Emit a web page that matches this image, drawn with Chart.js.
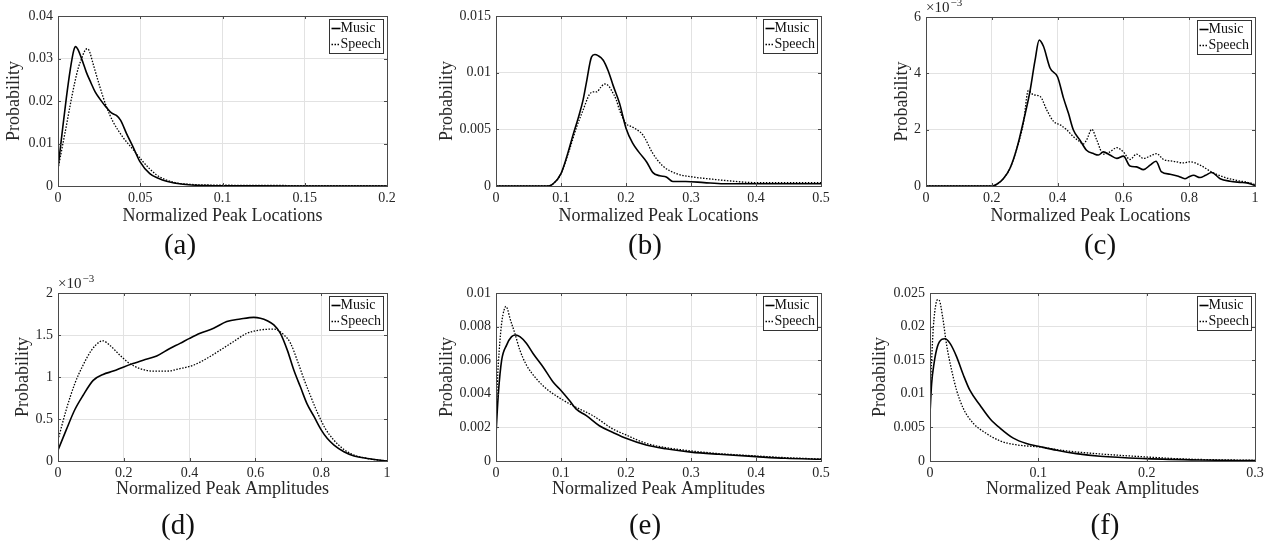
<!DOCTYPE html>
<html>
<head>
<meta charset="utf-8">
<script src="https://cdn.jsdelivr.net/npm/chart.js@4.4.1/dist/chart.umd.min.js"></script>
<style>
  body { margin:0; background:#fff; width:1273px; height:556px; position:relative; overflow:hidden; font-family:"Liberation Serif", serif; }
  canvas { position:absolute; }
  .cap { position:absolute; font-size:29px; color:#111; transform:translate(-50%,-50%); white-space:nowrap; }
</style>
</head>
<body>
<script>
// ---- data ----
const seriesNames = ['Music', 'Speech'];

// (a) peak locations
const aMusicX = [0, 0.0025, 0.005, 0.0075, 0.0095, 0.0107, 0.012, 0.0145, 0.0172, 0.02, 0.0225, 0.0254, 0.0294, 0.0325, 0.0355, 0.038, 0.0416, 0.0456, 0.0497, 0.0558, 0.061, 0.066, 0.076, 0.09, 0.1, 0.12, 0.15, 0.2];
const aMusicY = [0.0042, 0.0125, 0.0205, 0.0275, 0.0318, 0.0328, 0.0322, 0.0298, 0.0268, 0.0243, 0.0222, 0.0205, 0.0185, 0.0172, 0.0166, 0.0155, 0.0124, 0.0092, 0.0058, 0.0029, 0.0018, 0.0011, 0.0004, 0.0001, 0.00005, 0.00002, 0, 0];
const aSpeechX = [0, 0.0025, 0.005, 0.0075, 0.0101, 0.0125, 0.0142, 0.016, 0.0176, 0.019, 0.0213, 0.0254, 0.0294, 0.0335, 0.0396, 0.0456, 0.0517, 0.06, 0.07, 0.08, 0.1, 0.15, 0.2];
const aSpeechY = [0.004, 0.009, 0.014, 0.0192, 0.0242, 0.028, 0.0298, 0.0316, 0.0323, 0.0318, 0.0288, 0.0234, 0.0187, 0.0151, 0.0114, 0.0086, 0.0057, 0.0026, 0.0009, 0.0004, 0.0002, 0.0001, 0.00005];
const aXTicks = [0, 0.05, 0.1, 0.15, 0.2];
const aYTicks = [0, 0.01, 0.02, 0.03, 0.04];

// (b) peak locations
const bMusicX = [0, 0.05, 0.08, 0.088, 0.1, 0.109, 0.119, 0.127, 0.134, 0.139, 0.147, 0.152, 0.157, 0.165, 0.173, 0.18, 0.19, 0.2, 0.21, 0.221, 0.232, 0.241, 0.252, 0.262, 0.272, 0.292, 0.32, 0.35, 0.4, 0.45, 0.5];
const bMusicY = [0, 0, 0, 0.0002, 0.0011, 0.0026, 0.0046, 0.0061, 0.0076, 0.0091, 0.0114, 0.0116, 0.0115, 0.0111, 0.0101, 0.0089, 0.0073, 0.0051, 0.0038, 0.0029, 0.0021, 0.0012, 0.0009, 0.0008, 0.0004, 0.0004, 0.0003, 0.0002, 0.0002, 0.0002, 0.0002];
const bSpeechX = [0, 0.05, 0.08, 0.09, 0.1, 0.113, 0.124, 0.134, 0.144, 0.15, 0.155, 0.161, 0.167, 0.172, 0.177, 0.185, 0.19, 0.2, 0.206, 0.213, 0.226, 0.241, 0.256, 0.277, 0.302, 0.333, 0.35, 0.4, 0.45, 0.5];
const bSpeechY = [0, 0, 0, 0.0003, 0.0011, 0.0032, 0.0052, 0.0067, 0.0081, 0.0083, 0.0083, 0.0087, 0.009, 0.0089, 0.0085, 0.0076, 0.0067, 0.0055, 0.0053, 0.0051, 0.0045, 0.0029, 0.0018, 0.0011, 0.0008, 0.0006, 0.0005, 0.0003, 0.0003, 0.0003];
const bXTicks = [0, 0.1, 0.2, 0.3, 0.4, 0.5];
const bYTicks = [0, 0.005, 0.01, 0.015];

// (c) peak locations
const cMusicX = [0, 0.1, 0.2, 0.215, 0.235, 0.255, 0.276, 0.296, 0.316, 0.331, 0.344, 0.357, 0.377, 0.4, 0.418, 0.433, 0.448, 0.468, 0.488, 0.509, 0.524, 0.539, 0.559, 0.58, 0.6, 0.62, 0.64, 0.661, 0.681, 0.699, 0.716, 0.742, 0.767, 0.787, 0.8, 0.813, 0.833, 0.85, 0.868, 0.894, 0.924, 0.954, 0.975, 1.0];
const cMusicY = [0, 0, 0, 0.06e-3, 0.26e-3, 0.62e-3, 1.33e-3, 2.29e-3, 3.36e-3, 4.43e-3, 5.18e-3, 4.96e-3, 4.19e-3, 3.87e-3, 3.12e-3, 2.58e-3, 1.99e-3, 1.63e-3, 1.27e-3, 1.15e-3, 1.1e-3, 1.21e-3, 1.1e-3, 0.98e-3, 1.06e-3, 0.71e-3, 0.68e-3, 0.58e-3, 0.74e-3, 0.88e-3, 0.5e-3, 0.42e-3, 0.35e-3, 0.26e-3, 0.33e-3, 0.38e-3, 0.3e-3, 0.38e-3, 0.48e-3, 0.26e-3, 0.17e-3, 0.13e-3, 0.11e-3, 0.02e-3];
const cSpeechX = [0, 0.1, 0.2, 0.215, 0.235, 0.255, 0.276, 0.296, 0.311, 0.326, 0.347, 0.367, 0.388, 0.408, 0.428, 0.448, 0.468, 0.478, 0.488, 0.504, 0.519, 0.539, 0.559, 0.58, 0.6, 0.62, 0.64, 0.661, 0.681, 0.701, 0.722, 0.752, 0.782, 0.802, 0.833, 0.868, 0.904, 0.944, 0.985, 1.0];
const cSpeechY = [0, 0, 0, 0.06e-3, 0.26e-3, 0.62e-3, 1.33e-3, 2.23e-3, 3.39e-3, 3.24e-3, 3.18e-3, 2.7e-3, 2.29e-3, 2.17e-3, 1.99e-3, 1.75e-3, 1.57e-3, 1.49e-3, 1.63e-3, 2.01e-3, 1.63e-3, 1.13e-3, 1.21e-3, 1.36e-3, 1.21e-3, 0.94e-3, 1.13e-3, 0.98e-3, 1.06e-3, 1.15e-3, 0.94e-3, 0.88e-3, 0.82e-3, 0.86e-3, 0.74e-3, 0.5e-3, 0.32e-3, 0.2e-3, 0.11e-3, 0.05e-3];
const cXTicks = [0, 0.2, 0.4, 0.6, 0.8, 1];
const cYTicks = [0, 0.002, 0.004, 0.006];

// (d) peak amplitudes
const dMusicX = [0, 0.025, 0.051, 0.076, 0.107, 0.137, 0.168, 0.2, 0.228, 0.259, 0.3, 0.34, 0.371, 0.4, 0.432, 0.473, 0.513, 0.554, 0.595, 0.615, 0.636, 0.656, 0.676, 0.697, 0.717, 0.737, 0.757, 0.778, 0.8, 0.818, 0.839, 0.869, 0.9, 0.94, 1.0];
const dMusicY = [0.13e-3, 0.37e-3, 0.61e-3, 0.78e-3, 0.96e-3, 1.03e-3, 1.07e-3, 1.12e-3, 1.16e-3, 1.2e-3, 1.25e-3, 1.34e-3, 1.4e-3, 1.46e-3, 1.52e-3, 1.58e-3, 1.66e-3, 1.69e-3, 1.71e-3, 1.7e-3, 1.67e-3, 1.62e-3, 1.52e-3, 1.32e-3, 1.08e-3, 0.88e-3, 0.68e-3, 0.53e-3, 0.37e-3, 0.27e-3, 0.19e-3, 0.11e-3, 0.06e-3, 0.03e-3, 0];
const dSpeechX = [0, 0.025, 0.051, 0.076, 0.102, 0.127, 0.137, 0.157, 0.188, 0.218, 0.249, 0.29, 0.33, 0.371, 0.411, 0.452, 0.493, 0.533, 0.574, 0.615, 0.656, 0.687, 0.707, 0.727, 0.747, 0.767, 0.787, 0.812, 0.838, 0.868, 0.9, 0.94, 1.0];
const dSpeechY = [0.25e-3, 0.61e-3, 0.92e-3, 1.14e-3, 1.32e-3, 1.42e-3, 1.43e-3, 1.38e-3, 1.26e-3, 1.16e-3, 1.1e-3, 1.07e-3, 1.07e-3, 1.1e-3, 1.14e-3, 1.22e-3, 1.32e-3, 1.42e-3, 1.52e-3, 1.56e-3, 1.57e-3, 1.5e-3, 1.4e-3, 1.2e-3, 0.98e-3, 0.78e-3, 0.59e-3, 0.39e-3, 0.25e-3, 0.14e-3, 0.07e-3, 0.03e-3, 0];
const dXTicks = [0, 0.2, 0.4, 0.6, 0.8, 1];
const dYTicks = [0, 0.0005, 0.001, 0.0015, 0.002];

// (e) peak amplitudes
const eMusicX = [0, 0.0036, 0.0087, 0.0163, 0.024, 0.0306, 0.0367, 0.047, 0.057, 0.0724, 0.0878, 0.1, 0.113, 0.123, 0.139, 0.159, 0.18, 0.2, 0.231, 0.261, 0.3, 0.343, 0.4, 0.445, 0.5];
const eMusicY = [0.0016, 0.004, 0.006, 0.0069, 0.0074, 0.0075, 0.0074, 0.007, 0.0064, 0.0056, 0.0047, 0.0042, 0.0036, 0.0031, 0.0027, 0.0021, 0.0017, 0.00135, 0.00095, 0.00073, 0.00053, 0.0004, 0.00026, 0.00016, 0.0001];
const eSpeechX = [0, 0.002, 0.005, 0.0087, 0.0125, 0.0153, 0.018, 0.0214, 0.029, 0.0367, 0.047, 0.062, 0.0776, 0.1, 0.123, 0.149, 0.18, 0.2, 0.231, 0.261, 0.3, 0.343, 0.4, 0.445, 0.5];
const eSpeechY = [0.0022, 0.0046, 0.0066, 0.0082, 0.009, 0.0092, 0.009, 0.0085, 0.0076, 0.0066, 0.0057, 0.0049, 0.0043, 0.0037, 0.0032, 0.0027, 0.0019, 0.00155, 0.00105, 0.0008, 0.0006, 0.00044, 0.0003, 0.0002, 0.00012];
const eXTicks = [0, 0.1, 0.2, 0.3, 0.4, 0.5];
const eYTicks = [0, 0.002, 0.004, 0.006, 0.008, 0.01];

// (f) peak amplitudes
const fMusicX = [0, 0.0015, 0.0037, 0.0068, 0.0108, 0.0138, 0.0185, 0.0246, 0.0308, 0.0369, 0.0462, 0.0554, 0.0646, 0.0769, 0.089, 0.1, 0.117, 0.135, 0.157, 0.2, 0.25, 0.3];
const fMusicY = [0.0071, 0.0115, 0.0145, 0.017, 0.0181, 0.0182, 0.0175, 0.0155, 0.0128, 0.0105, 0.0083, 0.0063, 0.0049, 0.0034, 0.0026, 0.0022, 0.0016, 0.0011, 0.0007, 0.00035, 0.00015, 0.00005];
const fSpeechX = [0, 0.0015, 0.0031, 0.0055, 0.0071, 0.0086, 0.0117, 0.0154, 0.02, 0.0246, 0.0308, 0.04, 0.0492, 0.0646, 0.08, 0.1, 0.126, 0.157, 0.2, 0.234, 0.3];
const fSpeechY = [0.0096, 0.015, 0.02, 0.0234, 0.024, 0.0239, 0.0214, 0.0172, 0.0135, 0.0105, 0.0078, 0.0056, 0.0044, 0.003, 0.0024, 0.0021, 0.0015, 0.00105, 0.0006, 0.0003, 0.0001];
const fXTicks = [0, 0.1, 0.2, 0.3];
const fYTicks = [0, 0.005, 0.01, 0.015, 0.02, 0.025];

const locTitle = 'Normalized Peak Locations';
const ampTitle = 'Normalized Peak Amplitudes';

// ---- layout of the six panels (plot box in page pixels) ----
const panels = [
  { cap:'(a)', capX:180, capY:244, l:58,  r:387,  t:16,  b:186, yTitleX:14,  row:0, xt:locTitle, mx:aMusicX, my:aMusicY, sx:aSpeechX, sy:aSpeechY, xTicks:aXTicks, yTicks:aYTicks, exp:false },
  { cap:'(b)', capX:645, capY:244, l:496, r:821,  t:16,  b:186, yTitleX:447, row:0, xt:locTitle, mx:bMusicX, my:bMusicY, sx:bSpeechX, sy:bSpeechY, xTicks:bXTicks, yTicks:bYTicks, exp:false },
  { cap:'(c)', capX:1100, capY:244, l:926, r:1255, t:17,  b:186, yTitleX:902, row:0, xt:locTitle, mx:cMusicX, my:cMusicY, sx:cSpeechX, sy:cSpeechY, xTicks:cXTicks, yTicks:cYTicks, exp:true },
  { cap:'(d)', capX:178, capY:524, l:58,  r:387,  t:293, b:461, yTitleX:23,  row:1, xt:ampTitle, mx:dMusicX, my:dMusicY, sx:dSpeechX, sy:dSpeechY, xTicks:dXTicks, yTicks:dYTicks, exp:true },
  { cap:'(e)', capX:645, capY:524, l:496, r:821,  t:293, b:461, yTitleX:447, row:1, xt:ampTitle, mx:eMusicX, my:eMusicY, sx:eSpeechX, sy:eSpeechY, xTicks:eXTicks, yTicks:eYTicks, exp:false },
  { cap:'(f)', capX:1105, capY:524, l:930, r:1255, t:293, b:461, yTitleX:880, row:1, xt:ampTitle, mx:fMusicX, my:fMusicY, sx:fSpeechX, sy:fSpeechY, xTicks:fXTicks, yTicks:fYTicks, exp:false }
];

const FAM = '"Liberation Serif", serif';
const INK = '#262626';
const TITLE_SIZE = 18;
const HALF_LINE = TITLE_SIZE * 1.2 / 2;
const zip = (xs, ys) => xs.map((x, i) => ({ x, y: ys[i] }));
const fmt = v => String(+v.toFixed(6));

// frame, inward ticks, legend box and exponent label (MATLAB look)
const framePlugin = {
  id: 'frame',
  afterDraw(chart, args, opts) {
    const { ctx, chartArea: a, scales } = chart;
    ctx.save();
    ctx.strokeStyle = '#4a4a4a';
    ctx.lineWidth = 1;
    ctx.strokeRect(Math.round(a.left) + 0.5, Math.round(a.top) + 0.5, Math.round(a.right - a.left), Math.round(a.bottom - a.top));
    const tl = 3;
    ctx.beginPath();
    scales.x.ticks.forEach(t => {
      const px = Math.round(scales.x.getPixelForValue(t.value)) + 0.5;
      ctx.moveTo(px, a.bottom); ctx.lineTo(px, a.bottom - tl);
      ctx.moveTo(px, a.top); ctx.lineTo(px, a.top + tl);
    });
    scales.y.ticks.forEach(t => {
      const py = Math.round(scales.y.getPixelForValue(t.value)) + 0.5;
      ctx.moveTo(a.left, py); ctx.lineTo(a.left + tl, py);
      ctx.moveTo(a.right, py); ctx.lineTo(a.right - tl, py);
    });
    ctx.stroke();

    // legend
    ctx.font = '14px ' + FAM;
    const tw = Math.max(...chart.data.datasets.map(d => ctx.measureText(d.label).width));
    const bw = Math.round(12 + tw + 2), bh = 34;
    const bx = Math.round(a.right - 4 - bw) + 0.5, by = Math.round(a.top + 3) + 0.5;
    ctx.fillStyle = '#fff';
    ctx.fillRect(bx, by, bw, bh);
    ctx.strokeStyle = '#333';
    ctx.strokeRect(bx, by, bw, bh);
    chart.data.datasets.forEach((d, i) => {
      const cy = by + 9 + i * 16;
      ctx.save();
      ctx.strokeStyle = '#000';
      ctx.lineWidth = d.borderWidth;
      ctx.setLineDash(d.borderDash || []);
      ctx.beginPath(); ctx.moveTo(bx + 2, cy); ctx.lineTo(bx + 11, cy); ctx.stroke();
      ctx.restore();
      ctx.fillStyle = '#111';
      ctx.textBaseline = 'middle';
      ctx.fillText(d.label, bx + 11, cy);
    });

    if (opts.exp) {
      ctx.fillStyle = INK;
      ctx.textBaseline = 'alphabetic';
      ctx.font = '15px ' + FAM;
      const base = '\u00d710';
      ctx.fillText(base, a.left, a.top - 5);
      const w = ctx.measureText(base).width;
      ctx.font = '11px ' + FAM;
      ctx.fillText('\u22123', a.left + w + 1, a.top - 11);
    }
    ctx.restore();
  }
};

panels.forEach(p => {
  const left = p.yTitleX - 12;
  const top = p.t - (p.row ? 22 : 17);
  const right = p.r + 15;
  const bottom = p.b + 44;
  const cv = document.createElement('canvas');
  cv.width = right - left;
  cv.height = bottom - top;
  cv.style.left = left + 'px';
  cv.style.top = top + 'px';
  document.body.appendChild(cv);

  const cap = document.createElement('div');
  cap.className = 'cap';
  cap.textContent = p.cap;
  cap.style.left = p.capX + 'px';
  cap.style.top = p.capY + 'px';
  document.body.appendChild(cap);

  const yScale = p.exp ? (v => fmt(v * 1000)) : fmt;
  const xTitleCenter = p.row ? 28 : 30;

  new Chart(cv, {
    type: 'line',
    data: {
      datasets: [
        { label: seriesNames[0], data: zip(p.mx, p.my), borderColor: '#000', borderWidth: 1.6, pointRadius: 0, cubicInterpolationMode: 'monotone', fill: false },
        { label: seriesNames[1], data: zip(p.sx, p.sy), borderColor: '#000', borderWidth: 1.3, borderDash: [1.5, 1.5], pointRadius: 0, cubicInterpolationMode: 'monotone', fill: false }
      ]
    },
    options: {
      responsive: false,
      animation: false,
      devicePixelRatio: 1,
      events: [],
      layout: { padding: { top: p.t - top, right: right - p.r, left: 0, bottom: 0 } },
      plugins: { legend: { display: false }, tooltip: { enabled: false }, frame: { exp: p.exp } },
      scales: {
        x: {
          type: 'linear',
          min: p.xTicks[0],
          max: p.xTicks[p.xTicks.length - 1],
          afterBuildTicks: s => { s.ticks = p.xTicks.map(v => ({ value: v })); },
          afterFit: s => { s.height = bottom - p.b; s.paddingLeft = 0; s.paddingRight = 0; },
          grid: { color: '#e2e2e2', drawTicks: false },
          border: { display: false },
          ticks: { padding: 4, color: INK, font: { family: FAM, size: 14 }, maxRotation: 0, autoSkip: false, callback: v => fmt(v) },
          title: { display: true, text: p.xt, color: INK, font: { family: FAM, size: TITLE_SIZE }, padding: { top: 0, bottom: (44 - xTitleCenter) - HALF_LINE } }
        },
        y: {
          type: 'linear',
          min: p.yTicks[0],
          max: p.yTicks[p.yTicks.length - 1],
          afterBuildTicks: s => { s.ticks = p.yTicks.map(v => ({ value: v })); },
          afterFit: s => { s.width = p.l - left; s.paddingTop = 0; s.paddingBottom = 0; },
          grid: { color: '#e2e2e2', drawTicks: false },
          border: { display: false },
          ticks: { padding: 5, color: INK, font: { family: FAM, size: 14 }, autoSkip: false, callback: v => yScale(v) },
          title: { display: true, text: 'Probability', color: INK, font: { family: FAM, size: TITLE_SIZE }, padding: { top: 12 - HALF_LINE, bottom: 0 } }
        }
      }
    },
    plugins: [framePlugin]
  });
});
</script>
</body>
</html>
